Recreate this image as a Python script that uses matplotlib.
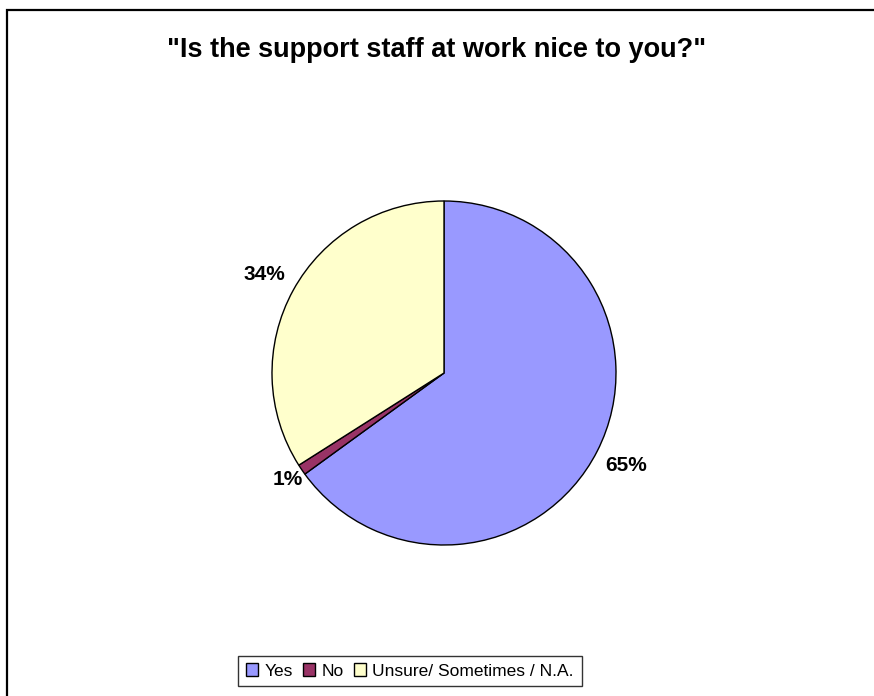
import matplotlib
matplotlib.use("Agg")
import numpy as np
import matplotlib.pyplot as plt
from matplotlib.patches import Rectangle, Patch

# Respostas da pesquisa
categorias = ["Yes", "No", "Unsure/ Sometimes / N.A."]
percentuais = [65, 1, 34]
cores = ["#9999FF", "#993366", "#FFFFCC"]

plt.rcParams["font.family"] = ["Liberation Sans", "DejaVu Sans"]

W, H = 874, 696
fig = plt.figure(figsize=(W / 100, H / 100), dpi=100)
fig.patch.set_facecolor("white")

# Moldura da área do gráfico
fig.patches.append(Rectangle((7 / W, -0.05), 1.05, 1 - 10 / H + 0.05,
                             transform=fig.transFigure, fill=False,
                             edgecolor="black", linewidth=1.6))

fig.text(437 / W, 1 - 50 / H, '"Is the support staff at work nice to you?"',
         ha="center", va="center", fontsize=19.5, fontweight="bold")

# Pizza centrada em (444, 373) px com raio de 172 px
cx, cy, r = 444, 373, 172
ax = fig.add_axes([(cx - r) / W, (H - cy - r) / H, 2 * r / W, 2 * r / H])
wedges, _, rotulos = ax.pie(percentuais, colors=cores, startangle=90, counterclock=False,
                            autopct="%d%%", pctdistance=1.19, radius=1,
                            wedgeprops=dict(edgecolor="black", linewidth=1.0),
                            textprops=dict(fontsize=15, fontweight="bold"))

# Fatias pequenas ficam com o rótulo mais perto da borda
for w, t, p in zip(wedges, rotulos, percentuais):
    if p < 5:
        ang = np.deg2rad((w.theta1 + w.theta2) / 2)
        t.set_position((1.1 * np.cos(ang), 1.1 * np.sin(ang)))

ax.set_xlim(-1, 1)
ax.set_ylim(-1, 1)
ax.set_aspect("equal")
ax.axis("off")

# Legenda embaixo
handles = [Patch(facecolor=c, edgecolor="black", linewidth=1.0) for c in cores]
leg = fig.legend(handles, categorias, loc="center",
                 bbox_to_anchor=(410 / W, 1 - 671 / H), ncol=3,
                 fontsize=12.5, frameon=True, fancybox=False,
                 handlelength=0.7, handleheight=0.7, handletextpad=0.35,
                 columnspacing=0.6, borderpad=0.45, borderaxespad=0)
leg.get_frame().set_edgecolor("black")
leg.get_frame().set_linewidth(1.0)

plt.savefig("out.png", dpi=100)
